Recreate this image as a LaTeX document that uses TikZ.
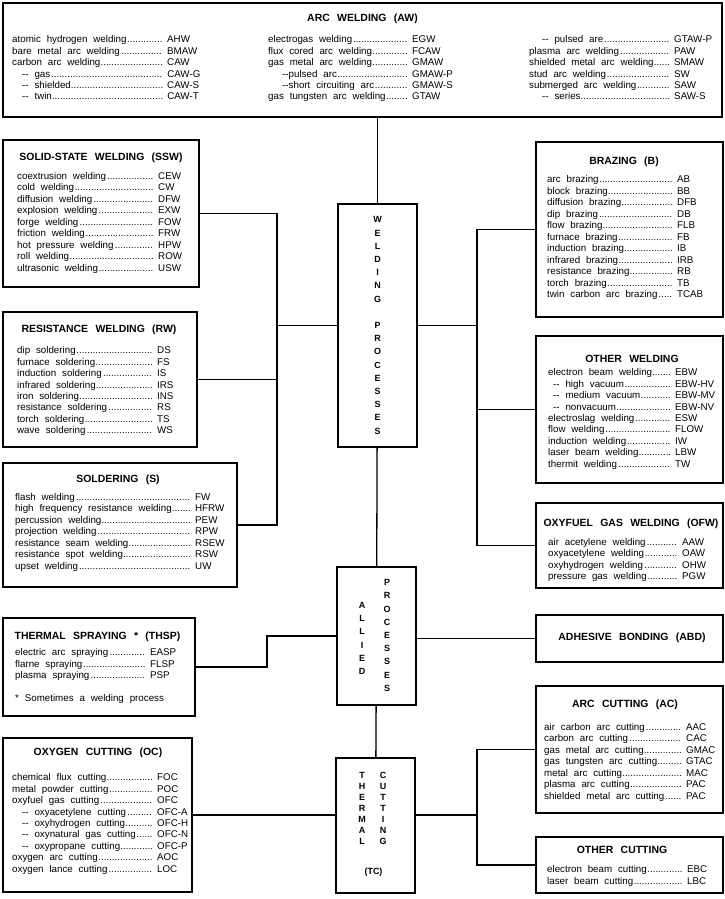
\documentclass[tikz,border=0pt]{standalone}
\usepackage{fontspec}
\setmainfont{Liberation Sans}
\usepackage{tikz}
\usetikzlibrary{calc,fit}
\newcommand{\framecolor}{black}
\newcommand{\thickness}{1.3bp}
\newlength{\namewd}
\newcommand{\listfont}{\fontsize{9.8}{11.5}\selectfont\spaceskip=0.6em\relax}
\newcommand{\headfont}{\fontsize{10.5}{12}\bfseries\spaceskip=0.7em\relax}
\newcommand{\stackfont}[1]{\fontsize{9}{#1}\bfseries}
\newcommand{\wrow}[3][0bp]{\makebox[\namewd][l]{\hspace{#1}#2\cleaders\hbox{.}\hfill}\hspace{4bp}#3}
\tikzset{
  frame/.style={draw=\framecolor, line width=\thickness, inner sep=0pt},
  head/.style={font=\headfont, inner sep=0pt},
  rows/.style={font=\listfont, align=left, anchor=north west, inner sep=0pt, /utils/exec={\setlength{\namewd}{#1}}},
  letters/.style={font={\stackfont{#1}}, align=center, inner sep=0pt},
  link/.style={draw=\framecolor, line width=\thickness}
}

\begin{document}
\begin{tikzpicture}[x=1bp, y=-1bp]
\useasboundingbox (0,0) rectangle (725,899);
%boxes
\node[frame, fit={(3,3) (722,117)}] (aw) {};
\node[frame, fit={(3,140) (199,287)}] (ssw) {};
\node[frame, fit={(536,142) (723,317)}] (brz) {};
\node[frame, fit={(3,312) (197,447)}] (rw) {};
\node[frame, fit={(536,336) (723,483)}] (oth) {};
\node[frame, fit={(3,463) (237,587)}] (sol) {};
\node[frame, fit={(536,503) (723,588)}] (ofw) {};
\node[frame, fit={(536,615) (723,662)}] (abd) {};
\node[frame, fit={(3,618) (195,716)}] (thsp) {};
\node[frame, fit={(536,686) (723,813)}] (ac) {};
\node[frame, fit={(536,837) (723,893)}] (ocut) {};
\node[frame, fit={(3,738) (192,892)}] (oc) {};
\node[frame, fit={(338,204) (417,447)}] (wp) {};
\node[frame, fit={(337,567) (416,705)}] (ap) {};
\node[frame, fit={(336,758) (415,893)}] (tc) {};
%arc welding
\node[head] (aw-t) at (362.5,19) {ARC WELDING (AW)};
\node[rows=151bp] (aw-a) at (12,35.4) {\wrow{atomic hydrogen welding}{AHW}\\
\wrow{bare metal arc welding}{BMAW}\\
\wrow{carbon arc welding}{CAW}\\
\wrow[10bp]{-{}- gas}{CAW-G}\\
\wrow[10bp]{-{}- shielded}{CAW-S}\\
\wrow[10bp]{-{}- twin}{CAW-T}};
\node[rows=140bp] (aw-b) at (268,35.4) {\wrow{electrogas welding}{EGW}\\
\wrow{flux cored arc welding}{FCAW}\\
\wrow{gas metal arc welding}{GMAW}\\
\wrow[14bp]{-{}-pulsed arc}{GMAW-P}\\
\wrow[14bp]{-{}-short circuiting arc}{GMAW-S}\\
\wrow{gas tungsten arc welding}{GTAW}};
\node[rows=141bp] (aw-c) at (529,35.4) {\wrow[13bp]{-{}- pulsed are}{GTAW-P}\\
\wrow{plasma arc welding}{PAW}\\
\wrow{shielded metal arc welding}{SMAW}\\
\wrow{stud arc welding}{SW}\\
\wrow{submerged arc welding}{SAW}\\
\wrow[13bp]{-{}- series}{SAW-S}};
%solid-state welding
\node[head] (ssw-t) at (101,158) {SOLID-STATE WELDING (SSW)};
\node[rows=137bp] (ssw-l) at (17,172.1) {\wrow{coextrusion welding}{CEW}\\
\wrow{cold welding}{CW}\\
\wrow{diffusion welding}{DFW}\\
\wrow{explosion welding}{EXW}\\
\wrow{forge welding}{FOW}\\
\wrow{friction welding}{FRW}\\
\wrow{hot pressure welding}{HPW}\\
\wrow{roll welding}{ROW}\\
\wrow{ultrasonic welding}{USW}};
%brazing
\node[head] (brz-t) at (624,162) {BRAZING (B)};
\node[rows=126bp] (brz-l) at (547,175.7) {\wrow{arc brazing}{AB}\\
\wrow{block brazing}{BB}\\
\wrow{diffusion brazing}{DFB}\\
\wrow{dip brazing}{DB}\\
\wrow{flow brazing}{FLB}\\
\wrow{furnace brazing}{FB}\\
\wrow{induction brazing}{IB}\\
\wrow{infrared brazing}{IRB}\\
\wrow{resistance brazing}{RB}\\
\wrow{torch brazing}{TB}\\
\wrow{twin carbon arc brazing}{TCAB}};
%resistance welding
\node[head] (rw-t) at (99,330) {RESISTANCE WELDING (RW)};
\node[rows=136bp] (rw-l) at (17,346.4) {\wrow{dip soldering}{DS}\\
\wrow{furnace soldering}{FS}\\
\wrow{induction soldering}{IS}\\
\wrow{infrared soldering}{IRS}\\
\wrow{iron soldering}{INS}\\
\wrow{resistance soldering}{RS}\\
\wrow{torch soldering}{TS}\\
\wrow{wave soldering}{WS}};
%other welding
\node[head] (oth-t) at (632,359) {OTHER WELDING};
\node[rows=123bp] (oth-l) at (548,368.4) {\wrow{electron beam welding}{EBW}\\
\wrow[5bp]{-{}- high vacuum}{EBW-HV}\\
\wrow[5bp]{-{}- medium vacuum}{EBW-MV}\\
\wrow[5bp]{-{}- nonvacuum}{EBW-NV}\\
\wrow{electroslag welding}{ESW}\\
\wrow{flow welding}{FLOW}\\
\wrow{induction welding}{IW}\\
\wrow{laser beam welding}{LBW}\\
\wrow{thermit welding}{TW}};
%soldering
\node[head] (sol-t) at (118,480) {SOLDERING (S)};
\node[rows=176bp] (sol-l) at (15,493.1) {\wrow{flash welding}{FW}\\
\wrow{high frequency resistance welding}{HFRW}\\
\wrow{percussion welding}{PEW}\\
\wrow{projection welding}{RPW}\\
\wrow{resistance seam welding}{RSEW}\\
\wrow{resistance spot welding}{RSW}\\
\wrow{upset welding}{UW}};
%oxyfuel gas welding
\node[head] (ofw-t) at (631,524) {OXYFUEL GAS WELDING (OFW)};
\node[rows=130bp] (ofw-l) at (548,538.1) {\wrow{air acetylene welding}{AAW}\\
\wrow{oxyacetylene welding}{OAW}\\
\wrow{oxyhydrogen welding}{OHW}\\
\wrow{pressure gas welding}{PGW}};
%adhesive bonding
\node[head] (abd-t) at (632,638) {ADHESIVE BONDING (ABD)};
%thermal spraying
\node[head] (thsp-t) at (97.5,637) {THERMAL SPRAYING * (THSP)};
\node[rows=131bp] (thsp-l) at (15,648.7) {\wrow{electric arc spraying}{EASP}\\
\wrow{flarne spraying}{FLSP}\\
\wrow{plasma spraying}{PSP}};
\node[font=\listfont, anchor=base west, inner sep=0pt] (thsp-n) at (15,701.6) {* Sometimes a welding process};
%arc cutting
\node[head] (ac-t) at (625,705) {ARC CUTTING (AC)};
\node[rows=138bp] (ac-l) at (544,723.1) {\wrow{air carbon arc cutting}{AAC}\\
\wrow{carbon arc cutting}{CAC}\\
\wrow{gas metal arc cutting}{GMAC}\\
\wrow{gas tungsten arc cutting}{GTAC}\\
\wrow{metal arc cutting}{MAC}\\
\wrow{plasma arc cutting}{PAC}\\
\wrow{shielded metal arc cutting}{PAC}};
%other cutting
\node[head] (ocut-t) at (622,850) {OTHER CUTTING};
\node[rows=136bp] (ocut-l) at (547,865.4) {\wrow{electron beam cutting}{EBC}\\
\wrow{laser beam cutting}{LBC}};
%oxygen cutting
\node[head] (oc-t) at (98,753) {OXYGEN CUTTING (OC)};
\node[rows=141bp] (oc-l) at (12,773.4) {\wrow{chemical flux cutting}{FOC}\\
\wrow{metal powder cutting}{POC}\\
\wrow{oxyfuel gas cutting}{OFC}\\
\wrow[10bp]{-{}- oxyacetylene cutting}{OFC-A}\\
\wrow[10bp]{-{}- oxyhydrogen cutting}{OFC-H}\\
\wrow[10bp]{-{}- oxynatural gas cutting}{OFC-N}\\
\wrow[10bp]{-{}- oxypropane cutting}{OFC-P}\\
\wrow{oxygen arc cutting}{AOC}\\
\wrow{oxygen lance cutting}{LOC}};
%centre column
\node[letters=13.2bp] (wp-t) at (wp.center) {W\\E\\L\\D\\I\\N\\G\\[13.2bp]P\\R\\O\\C\\E\\S\\S\\E\\S};
\node[letters=13.2bp] (ap-a) at (362,638.5) {A\\L\\L\\I\\E\\D};
\node[letters=13.2bp] (ap-b) at (387,635.5) {P\\R\\O\\C\\E\\S\\S\\E\\S};
\node[letters=11bp] (tc-a) at (362,808) {T\\H\\E\\R\\M\\A\\L};
\node[letters=11bp] (tc-b) at (383,808) {C\\U\\T\\T\\I\\N\\G};
\node[letters=11bp] (tc-c) at (373.5,872) {(TC)};
%connectors
\coordinate (lt) at (277,0);
\coordinate (rt) at (477,0);
\coordinate (ts) at (267,0);
\draw[link] (aw.south -| wp.north) -- (wp.north);
\draw[link] (wp) -- (ap);
\draw[link] (ap) -- (tc);
\draw[link] (ssw.east) -| (lt |- sol.east) -- (sol.east);
\draw[link] (rw.east) -- (rw.east -| lt);
\draw[link] (wp.west) -- (wp.west -| lt);
\draw[link] (brz.west) -| (rt |- ofw.west) -- (ofw.west);
\draw[link] (oth.west) -- (oth.west -| rt);
\draw[link] (wp.east) -- (wp.east -| rt);
\draw[link] (thsp.east) -- (thsp.east -| ts) |- (ap.west);
\draw[link] (ap.east |- abd.west) -- (abd.west);
\draw[link] (oc.east) -- (oc.east -| tc.west);
\draw[link] (ac.west) -| (rt |- ocut.west) -- (ocut.west);
\draw[link] (tc.east |- oc.east) -- (rt |- oc.east);
\end{tikzpicture}
\end{document}
